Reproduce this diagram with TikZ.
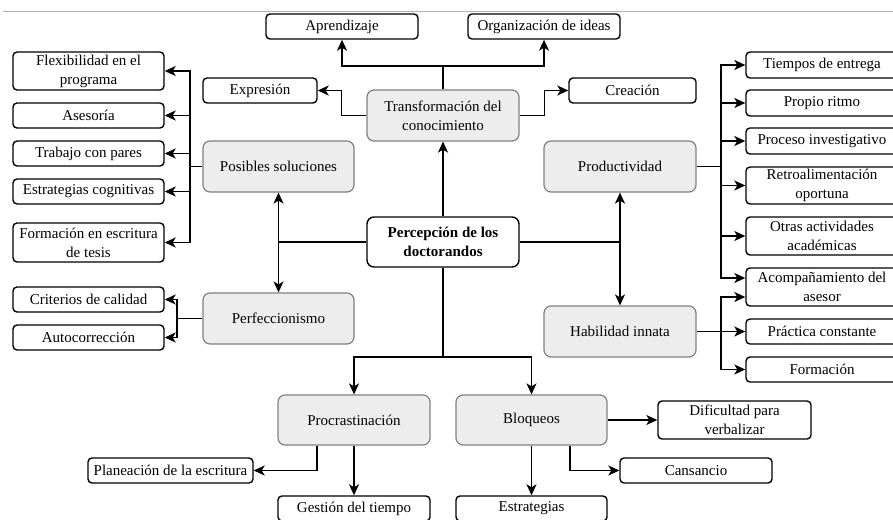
\documentclass[tikz,border=0pt]{standalone}
\usepackage{fontspec}
\setmainfont{Liberation Serif}
\usetikzlibrary{arrows.meta}
\begin{document}
\begin{tikzpicture}[x=1pt,y=-1pt,line width=1.5pt,
	every node/.style={font=\fontsize{15}{19}\selectfont,align=center,inner sep=0pt},
	hoja/.style={draw=black,line width=1.4pt,fill=white,rounded corners=4pt,minimum width=151pt,minimum height=25pt},
	tema/.style={draw=black!50,line width=1.2pt,fill=black!7,rounded corners=7pt,minimum width=151pt,minimum height=51pt},
	flecha/.style={-{Stealth[length=11pt,width=10pt,inset=3pt]}}]
			\useasboundingbox (0,0) rectangle (893,519);
			\clip (0,0) rectangle (893,519);
			\draw[black!30,line width=1pt] (3,12) -- (893,12);
			\node[hoja,minimum width=152pt] (apr) at (342,26.5) {Aprendizaje};
			\node[hoja,minimum width=152pt] (org) at (544,26.5) {Organización de ideas};
			\node[hoja,minimum width=114pt] (expr) at (260,90.5) {Expresión};
			\node[hoja,minimum width=127pt] (crea) at (632.5,90.5) {Creación};
			\node[tema,minimum width=152pt] (trans) at (443,115.5) {Transformación del\\conocimiento};
			\node[hoja,minimum width=152pt,minimum height=50pt,rounded corners=7pt] (perc) at (443,242) {\bfseries Percepción de los\\\bfseries doctorandos};
			\node[tema] (sol) at (278.5,166.5) {Posibles soluciones};
			\node[tema,minimum width=152pt] (prod) at (620,166.5) {Productividad};
			\node[tema] (perf) at (278.5,318.5) {Perfeccionismo};
			\node[tema,minimum width=152pt] (hab) at (620,331.5) {Habilidad innata};
			\node[tema,minimum width=152pt,minimum height=50pt] (proc) at (354,420) {Procrastinación};
			\node[tema,minimum height=50pt] (bloq) at (531.5,420) {Bloqueos};
			\node[hoja,minimum height=38pt] (flex) at (88.5,71) {Flexibilidad en el\\programa};
			\node[hoja] (ases) at (88.5,115.5) {Asesoría};
			\node[hoja] (trab) at (88.5,153.5) {Trabajo con pares};
			\node[hoja] (estc) at (88.5,191.5) {Estrategias cognitivas};
			\node[hoja,minimum height=39pt] (fesc) at (88.5,242.5) {Formación en escritura\\de tesis};
			\node[hoja] (crit) at (88.5,299.5) {Criterios de calidad};
			\node[hoja] (auto) at (88.5,337.5) {Autocorrección};
			\node[hoja,minimum width=152pt,minimum height=26pt] (tiem) at (822,65) {Tiempos de entrega};
			\node[hoja,minimum width=152pt,minimum height=26pt] (ritmo) at (822,103) {Propio ritmo};
			\node[hoja,minimum width=152pt,minimum height=26pt] (inv) at (822,141) {Proceso investigativo};
			\node[hoja,minimum width=152pt,minimum height=37pt] (retro) at (822,185.5) {Retroalimentación\\oportuna};
			\node[hoja,minimum width=152pt,minimum height=38pt] (otras) at (822,236) {Otras actividades\\académicas};
			\node[hoja,minimum width=152pt,minimum height=38pt] (acom) at (822,287) {Acompañamiento del\\asesor};
			\node[hoja,minimum width=152pt] (prac) at (822,331.5) {Práctica constante};
			\node[hoja,minimum width=152pt] (fmn) at (822,369.5) {Formación};
			\node[hoja,minimum width=165pt] (plan) at (170.5,470.5) {Planeación de la escritura};
			\node[hoja,minimum width=152pt] (gest) at (354,508.5) {Gestión del tiempo};
			\node[hoja,minimum width=153pt,minimum height=38pt] (dif) at (734.5,420) {Dificultad para\\verbalizar};
			\node[hoja,minimum width=152pt] (cans) at (696,470.5) {Cansancio};
			\node[hoja] (estr) at (531.5,508.5) {Estrategias};
			\coordinate (tj) at (443,66);
			\coordinate (pl) at (278.5,242);
			\coordinate (pr) at (620,242);
			\coordinate (pb) at (443,357);
			\coordinate (st) at (190,166.5);
			\coordinate (pt) at (721,166.5);
			\coordinate (ht) at (721,331.5);
			\coordinate (ft) at (177,318.5);
			\draw[flecha] (perc) -- (trans);
			\draw (trans) -- (tj);
			\draw[flecha] (tj) -| (apr);
			\draw[flecha] (tj) -| (org);
			\draw[flecha] (trans.west) -- ++(-25,0) |- (expr);
			\draw[flecha] (trans.east) -- ++(25,0) |- (crea);
			\draw (perc.west) -- (pl);
			\draw[flecha] (pl) -- (sol);
			\draw[flecha] (pl) -- (perf);
			\draw (perc.east) -- (pr);
			\draw[flecha] (pr) -- (prod);
			\draw[flecha] (pr) -- (hab);
			\draw (sol) -- (st);
			\draw[flecha] (st) |- (flex);
			\draw[flecha] (st) |- (ases);
			\draw[flecha] (st) |- (trab);
			\draw[flecha] (st) |- (estc);
			\draw[flecha] (st) |- (fesc);
			\draw (perf) -- (ft);
			\draw[flecha] (ft) |- (crit);
			\draw[flecha] (ft) |- (auto);
			\draw (prod) -- (pt);
			\draw[flecha] (pt) |- (tiem);
			\draw[flecha] (pt) |- (ritmo);
			\draw[flecha] (pt) |- (inv);
			\draw[flecha] (pt) |- (retro);
			\draw[flecha] (pt) |- (otras);
			\draw[flecha] (pt) |- ([yshift=9pt]acom.west);
			\draw (hab) -- (ht);
			\draw[flecha] (ht) |- ([yshift=-10pt]acom.west);
			\draw[flecha] (ht) -- (prac);
			\draw[flecha] (ht) |- (fmn);
			\draw (perc) -- (pb);
			\draw[flecha] (pb) -| (proc);
			\draw[flecha] (pb) -| (bloq);
			\draw[flecha] ([xshift=-37pt]proc.south) |- (plan);
			\draw[flecha] (proc) -- (gest);
			\draw[flecha] (bloq) -- (dif);
			\draw[flecha] ([xshift=38.5pt]bloq.south) |- (cans);
			\draw[flecha] (bloq) -- (estr);
		\end{tikzpicture}
\end{document}
